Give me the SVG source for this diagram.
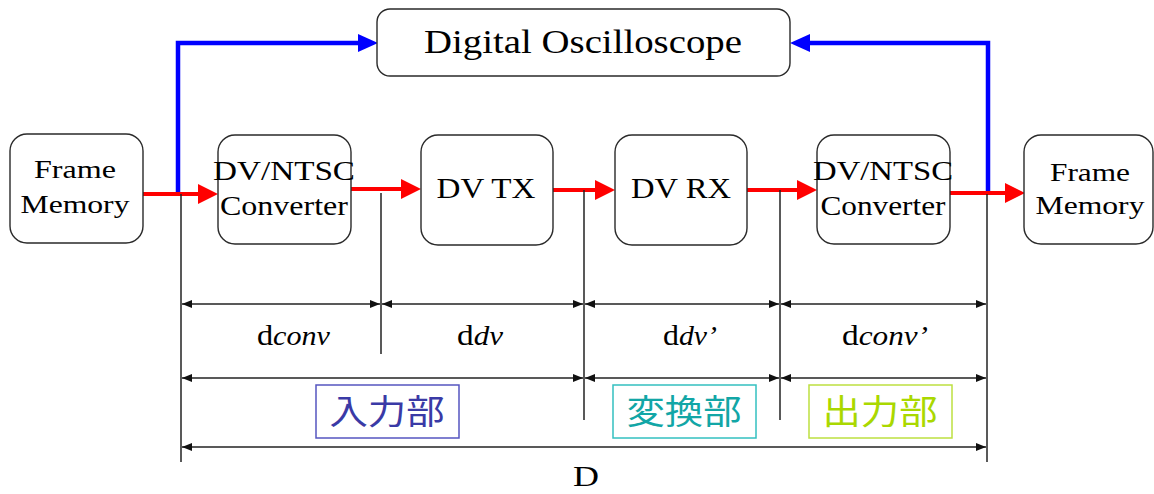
<svg xmlns="http://www.w3.org/2000/svg" width="1154" height="494" viewBox="0 0 1154 494">
  <style>
    .box { fill: #ffffff; stroke: #2a2a2a; stroke-width: 1.4; }
    .lbl { font-family: "Liberation Serif", "Times New Roman", serif; fill: #000; text-anchor: middle; }
    .sig { fill: none; stroke: #ff0000; stroke-width: 4; }
    .mon { fill: none; stroke: #0000ff; stroke-width: 4.5; }
    .tick { fill: none; stroke: #222; stroke-width: 1.5; }
    .dim { fill: none; stroke: #222; stroke-width: 1.5; marker-start: url(#dimArrow); marker-end: url(#dimArrow); }
    .dlbl { font-family: "Liberation Serif", "Times New Roman", serif; font-size: 30px; fill: #000; }
    .dlbl tspan.sub { font-style: italic; font-size: 28px; }
    .sect { font-family: "Noto Sans CJK JP", "Noto Sans CJK SC", sans-serif; font-size: 34px; font-weight: normal; text-anchor: middle; }
  </style>
  <defs>
    <marker id="redHead" markerUnits="userSpaceOnUse" markerWidth="20" markerHeight="20" refX="0" refY="10" orient="auto">
      <path d="M0,0 L20,10 L0,20 z" fill="#ff0000"/>
    </marker>
    <marker id="blueHead" markerUnits="userSpaceOnUse" markerWidth="20" markerHeight="20" refX="0" refY="10" orient="auto">
      <path d="M0,1 L20,10 L0,19 z" fill="#0000ff"/>
    </marker>
    <marker id="dimArrow" markerUnits="userSpaceOnUse" markerWidth="10" markerHeight="8" refX="10" refY="4" orient="auto-start-reverse">
      <path d="M0,0 L10,4 L0,8 z" fill="#111"/>
    </marker>
  </defs>

  <!-- signal and monitor connectors, dimension lines -->
  <g id="connectors">
    <!-- monitor taps to the oscilloscope -->
    <path class="mon" d="M178,194 V43 H358" marker-end="url(#blueHead)"/>
    <path class="mon" d="M988,193 V43 H810" marker-end="url(#blueHead)"/>
    <!-- video path -->
    <path class="sig" d="M143,194 H198" marker-end="url(#redHead)"/>
    <path class="sig" d="M351,189 H401" marker-end="url(#redHead)"/>
    <path class="sig" d="M553,190 H595" marker-end="url(#redHead)"/>
    <path class="sig" d="M747,190 H797" marker-end="url(#redHead)"/>
    <path class="sig" d="M950,193 H1005" marker-end="url(#redHead)"/>
    <!-- reference verticals -->
    <path class="tick" d="M181,194 V462"/>
    <path class="tick" d="M381,193 V354"/>
    <path class="tick" d="M584,190 V420"/>
    <path class="tick" d="M780,190 V420"/>
    <path class="tick" d="M987,194 V462"/>
    <!-- dimension arrows -->
    <path class="dim" d="M182,304 H380"/>
    <path class="dim" d="M382,304 H583"/>
    <path class="dim" d="M585,304 H779"/>
    <path class="dim" d="M781,304 H986"/>
    <path class="dim" d="M182,378 H583"/>
    <path class="dim" d="M585,378 H779"/>
    <path class="dim" d="M781,378 H986"/>
    <path class="dim" d="M182,447 H986"/>
  </g>

  <g id="oscilloscope">
    <rect class="box" x="377" y="9" width="413" height="67" rx="13"/>
    <text class="lbl" x="583" y="53" font-size="33" textLength="318" lengthAdjust="spacingAndGlyphs">Digital Oscilloscope</text>
  </g>

  <g id="frame-memory-in">
    <rect class="box" x="10" y="134" width="133" height="109" rx="17"/>
    <text class="lbl" x="75" y="178" font-size="25" textLength="82" lengthAdjust="spacingAndGlyphs">Frame</text>
    <text class="lbl" x="75" y="213" font-size="25" textLength="109" lengthAdjust="spacingAndGlyphs">Memory</text>
  </g>

  <g id="converter-in">
    <rect class="box" x="218" y="135" width="133" height="109" rx="17"/>
    <text class="lbl" x="284" y="180" font-size="27" textLength="142" lengthAdjust="spacingAndGlyphs">DV/NTSC</text>
    <text class="lbl" x="284" y="215" font-size="27" textLength="128" lengthAdjust="spacingAndGlyphs">Converter</text>
  </g>

  <g id="dv-tx">
    <rect class="box" x="421" y="135" width="132" height="110" rx="17"/>
    <text class="lbl" x="486" y="198" font-size="30" textLength="99" lengthAdjust="spacingAndGlyphs">DV TX</text>
  </g>

  <g id="dv-rx">
    <rect class="box" x="615" y="135" width="132" height="110" rx="17"/>
    <text class="lbl" x="681" y="198" font-size="30" textLength="100" lengthAdjust="spacingAndGlyphs">DV RX</text>
  </g>

  <g id="converter-out">
    <rect class="box" x="817" y="135" width="133" height="109" rx="17"/>
    <text class="lbl" x="883" y="180" font-size="27" textLength="140" lengthAdjust="spacingAndGlyphs">DV/NTSC</text>
    <text class="lbl" x="883" y="215" font-size="27" textLength="125" lengthAdjust="spacingAndGlyphs">Converter</text>
  </g>

  <g id="frame-memory-out">
    <rect class="box" x="1024" y="135" width="129" height="109" rx="17"/>
    <text class="lbl" x="1090" y="181" font-size="25" textLength="80" lengthAdjust="spacingAndGlyphs">Frame</text>
    <text class="lbl" x="1090" y="214" font-size="25" textLength="109" lengthAdjust="spacingAndGlyphs">Memory</text>
  </g>

  <!-- delay labels -->
  <g id="delay-labels">
    <text class="dlbl" x="257" y="345" textLength="73" lengthAdjust="spacingAndGlyphs">d<tspan class="sub">conv</tspan></text>
    <text class="dlbl" x="457" y="345" textLength="46" lengthAdjust="spacingAndGlyphs">d<tspan class="sub">dv</tspan></text>
    <text class="dlbl" x="663" y="345" textLength="54" lengthAdjust="spacingAndGlyphs">d<tspan class="sub">dv’</tspan></text>
    <text class="dlbl" x="842" y="345" textLength="86" lengthAdjust="spacingAndGlyphs">d<tspan class="sub">conv’</tspan></text>
    <text class="lbl" x="586" y="486" font-size="29" textLength="26" lengthAdjust="spacingAndGlyphs">D</text>
  </g>

  <!-- section labels -->
  <g id="section-input">
    <rect x="316" y="385" width="143" height="53" fill="#ffffff" stroke="#5555c0" stroke-width="1.5"/>
    <text class="sect" x="387" y="424" fill="#3a3aa6" textLength="115" lengthAdjust="spacingAndGlyphs">入力部</text>
  </g>
  <g id="section-convert">
    <rect x="613" y="385" width="143" height="53" fill="#ffffff" stroke="#33c0c0" stroke-width="1.5"/>
    <text class="sect" x="684" y="424" fill="#12a6a6" textLength="115" lengthAdjust="spacingAndGlyphs">変換部</text>
  </g>
  <g id="section-output">
    <rect x="809" y="385" width="143" height="53" fill="#ffffff" stroke="#bde040" stroke-width="1.5"/>
    <text class="sect" x="880" y="424" fill="#aad800" textLength="115" lengthAdjust="spacingAndGlyphs">出力部</text>
  </g>
</svg>
